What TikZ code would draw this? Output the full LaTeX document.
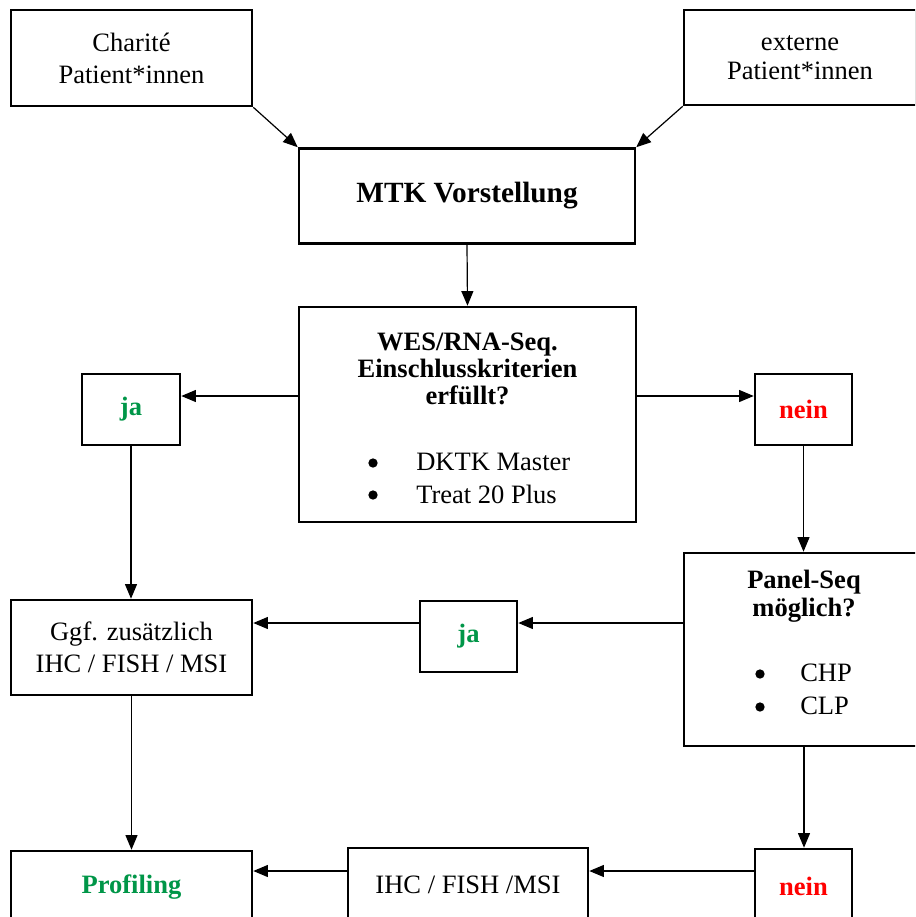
\documentclass[tikz,border=0pt]{standalone}
\usepackage{fontspec}
\setmainfont{Liberation Serif}
\usetikzlibrary{arrows.meta}
\definecolor{jagreen}{RGB}{0,150,72}
\definecolor{neinred}{RGB}{255,0,0}
\begin{document}
\begin{tikzpicture}[x=0.75pt,y=-0.75pt,
  txt/.style={font=\fontsize{19.9}{24}\selectfont, align=center, inner sep=0pt},
  btxt/.style={font=\bfseries\fontsize{19.9}{20}\selectfont, align=center, inner sep=0pt},
  bx/.style n args={2}{draw, line width=1.9pt, inner sep=0pt, align=center,
     font=\fontsize{19.9}{24}\selectfont,
     minimum width=#1*0.75pt, minimum height=#2*0.75pt},
  jatxt/.style={font=\bfseries\fontsize{19.9}{24}\selectfont, text=jagreen},
  neintxt/.style={font=\bfseries\fontsize{19.9}{24}\selectfont, text=neinred},
  bul/.style={circle, fill=black, inner sep=0pt, minimum size=7pt},
  arr/.style={line width=0.9pt, -{Triangle[length=11pt,width=9pt]}}]
\useasboundingbox (0,0) rectangle (915,917);
\clip (0,0) rectangle (915,917);
\fill[white] (0,0) rectangle (915,917);

% boxes
\node[bx={241}{96}] (charite) at (131.5,58) {Charité\\Patient*innen};
\node[bx={232}{95}] (externe) at (800,57.5) {\raisebox{-2pt}{externe}\\Patient*innen};
\node[bx={336}{95}, font=\bfseries\fontsize{22}{26}\selectfont] (mtk) at (467,196) {MTK Vorstellung};
\node[bx={337}{215}] (wes) at (467.5,414.5) {};
\node[btxt, font=\bfseries\fontsize{19.9}{20}\selectfont] (westitle) at (467.5,369) {WES/RNA-Seq.\\Einschlusskriterien\\erfüllt?};
\node[bul] (wesb1) at (373,463) {};
\node[txt, anchor=west] (wesi1) at (416,462) {DKTK Master};
\node[bul] (wesb2) at (373,495) {};
\node[txt, anchor=west] (wesi2) at (416,494) {Treat 20 Plus};

\node[bx={98}{71}, jatxt] (ja1) at (131,409.5) {\vphantom{n}ja};
\node[bx={97}{71}, neintxt] (nein1) at (803.5,409.5) {nein};

\node[bx={240}{193}] (panel) at (804,649.5) {};
\node[btxt, font=\bfseries\fontsize{19.9}{21}\selectfont] (paneltitle) at (804,596) {Panel-Seq\\möglich?};
\node[bul] (panb1) at (760,674) {};
\node[txt, anchor=west] (pani1) at (800,673) {CHP};
\node[bul] (panb2) at (760,707) {};
\node[txt, anchor=west] (pani2) at (800,706) {CLP};

\node[bx={97}{71}, jatxt] (ja2) at (468.5,636.5) {ja};
\node[bx={241}{95}] (ggf) at (131.5,647.5) {Ggf. zusätzlich\\IHC / FISH / MSI};

\node[bx={241}{72}, jatxt] (prof) at (131.5,887) {Profiling};
\node[bx={240}{74}] (ihc) at (468,885) {IHC / FISH /MSI};
\node[bx={97}{74}, neintxt] (nein3) at (803.5,886) {nein};

% connectors
\draw[arr] (charite.south east) -- (mtk.north west);
\draw[arr] (externe.south west) -- (mtk.north east);
\draw[arr] (mtk.south) -- (wes.north);
\draw[arr] (wes.west |- 0,396) -- (ja1.east |- 0,396);
\draw[arr] (wes.east |- 0,396) -- (nein1.west |- 0,396);
\draw[arr] (ja1.south) -- (ja1.south |- ggf.north);
\draw[arr] (nein1.south) -- (nein1.south |- panel.north);
\draw[arr] (panel.west |- 0,623) -- (ja2.east |- 0,623);
\draw[arr] (ja2.west |- 0,623) -- (ggf.east |- 0,623);
\draw[arr] (ggf.south) -- (ggf.south |- prof.north);
\draw[arr] (panel.south) -- (panel.south |- nein3.north);
\draw[arr] (nein3.west |- 0,871) -- (ihc.east |- 0,871);
\draw[arr] (ihc.west |- 0,871) -- (prof.east |- 0,871);
\end{tikzpicture}
\end{document}
